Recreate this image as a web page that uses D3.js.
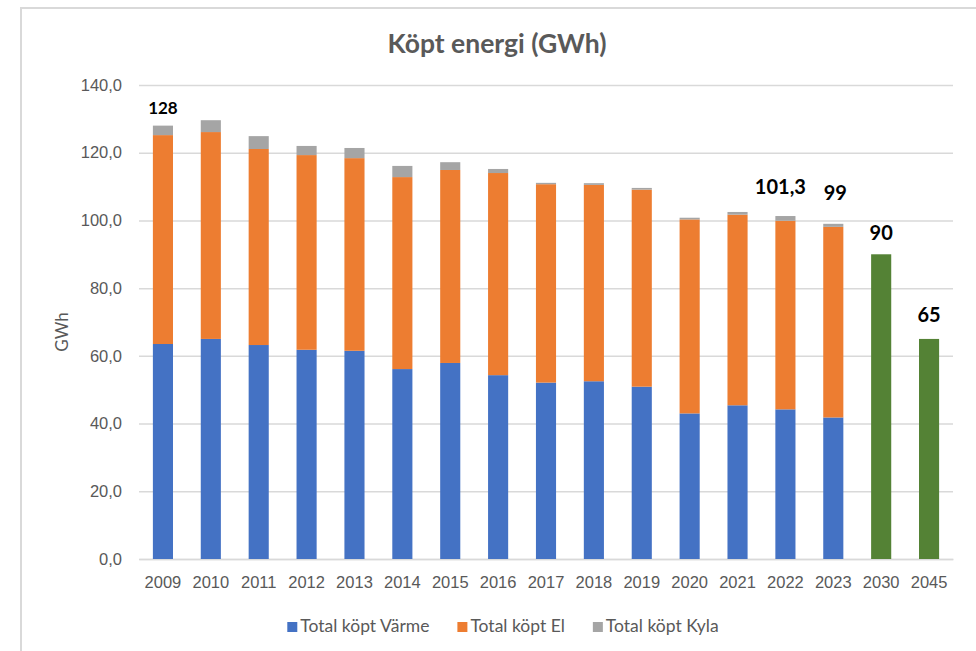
<!DOCTYPE html>
<html>
<head>
<meta charset="utf-8">
<script src="https://cdn.jsdelivr.net/npm/d3@7"></script>
<style>
  html, body { margin: 0; padding: 0; background: #fff; }
  svg { display: block; font-family: Lato, "Open Sans", sans-serif; }
</style>
</head>
<body>
<svg id="chart" width="976" height="651"></svg>
<script>
// ---- data ----
const years = ["2009","2010","2011","2012","2013","2014","2015","2016","2017","2018","2019","2020","2021","2022","2023","2030","2045"];
const varme = [63.5, 65.0, 63.2, 61.8, 61.5, 56.1, 57.9, 54.3, 52.1, 52.5, 50.9, 43.0, 45.4, 44.2, 41.8, 0, 0];
const el    = [61.7, 61.1, 57.9, 57.5, 56.9, 56.7, 57.0, 59.7, 58.6, 58.0, 58.2, 57.3, 56.3, 55.7, 56.3, 0, 0];
const kyla  = [2.8, 3.5, 3.8, 2.7, 3.0, 3.3, 2.3, 1.2, 0.4, 0.5, 0.5, 0.5, 0.8, 1.4, 0.9, 0, 0];
const target = [null, null, null, null, null, null, null, null, null, null, null, null, null, null, null, 90, 65];
const seriesNames = ["Total köpt Värme", "Total köpt El", "Total köpt Kyla"];
const labelYears = ["2009", "2022", "2023", "2030", "2045"];
const labelTexts = ["128", "101,3", "99", "90", "65"];
const yTicks = [0, 20, 40, 60, 80, 100, 120, 140];
const title = "Köpt energi (GWh)";
const yTitle = "GWh";

// ---- styles / layout ----
const colors = ["#4472C4", "#ED7D31", "#A5A5A5"];
const targetColor = "#548235";
const labelLayout = { "2009": {lift: 12, size: 17, dx: 0}, "2022": {lift: 22, size: 20, dx: -5}, "2023": {lift: 24, size: 20, dx: 2}, "2030": {lift: 14, size: 20, dx: 0}, "2045": {lift: 17, size: 20, dx: 0} };

const svg = d3.select("#chart");
const margin = { left: 139, right: 976 - 953, top: 85, bottom: 651 - 559 };
const W = 976, H = 651;

// outer frame
svg.append("rect").attr("x", 21).attr("y", 8).attr("width", 970).attr("height", 660)
  .attr("fill", "none").attr("stroke", "#d9d9d9").attr("stroke-width", 2);

const x = d3.scaleBand().domain(years).range([margin.left, W - margin.right])
  .paddingInner(0.58).paddingOuter(0.29);
const y = d3.scaleLinear().domain([0, 140]).range([H - margin.bottom, margin.top]);

const locale = d3.formatLocale({ decimal: ",", thousands: " ", grouping: [3], currency: ["", " kr"] });
const fmt = locale.format(".1f");

// gridlines + y axis labels
const yAxis = d3.axisLeft(y).tickValues(yTicks).tickFormat(fmt)
  .tickSize(-(W - margin.right - margin.left)).tickPadding(17);
const gy = svg.append("g").attr("transform", `translate(${margin.left},0)`).call(yAxis);
gy.select(".domain").remove();
gy.selectAll(".tick line").attr("stroke", "#d9d9d9").attr("stroke-width", 1.5);
gy.selectAll(".tick text").attr("fill", "#595959").attr("font-size", 16.5);

// x axis
const xAxis = d3.axisBottom(x).tickSize(0).tickPadding(17);
const gx = svg.append("g").attr("transform", `translate(0,${y(0)})`).call(xAxis);
gx.select(".domain").attr("stroke", "#d9d9d9").attr("stroke-width", 1.5);
gx.selectAll(".tick text").attr("fill", "#595959").attr("font-size", 16.5);

// stacked bars
const rows = years.map((yr, i) => ({ year: yr, v: varme[i], e: el[i], k: kyla[i] }));
const stack = d3.stack().keys(["v", "e", "k"]);
const stacked = stack(rows);
svg.append("g").selectAll("g").data(stacked).join("g")
  .attr("fill", (d, i) => colors[i])
  .selectAll("rect").data(d => d.filter(s => s[1] - s[0] > 0)).join("rect")
  .attr("x", d => x(d.data.year))
  .attr("width", x.bandwidth())
  .attr("y", d => y(d[1]))
  .attr("height", d => y(d[0]) - y(d[1]));

// target bars
const targets = years.map((yr, i) => ({ year: yr, t: target[i] })).filter(d => d.t != null);
svg.append("g").selectAll("rect").data(targets).join("rect")
  .attr("fill", targetColor)
  .attr("x", d => x(d.year)).attr("width", x.bandwidth())
  .attr("y", d => y(d.t)).attr("height", d => y(0) - y(d.t));

// data labels
const totals = years.map((yr, i) => target[i] != null ? target[i] : varme[i] + el[i] + kyla[i]);
svg.append("g").selectAll("text").data(labelYears.map((yr, i) => ({ year: yr, text: labelTexts[i] }))).join("text")
  .attr("x", d => x(d.year) + x.bandwidth() / 2 + labelLayout[d.year].dx)
  .attr("y", d => y(totals[years.indexOf(d.year)]) - labelLayout[d.year].lift)
  .attr("text-anchor", "middle")
  .attr("font-weight", "bold")
  .attr("font-size", d => labelLayout[d.year].size)
  .attr("fill", "#000")
  .text(d => d.text);

// title
svg.append("text").attr("x", 497).attr("y", 53).attr("text-anchor", "middle")
  .attr("font-size", 26.5).attr("font-weight", "bold").attr("fill", "#595959").text(title);

// y title
svg.append("text").attr("transform", "translate(68,332) rotate(-90)").attr("text-anchor", "middle")
  .attr("font-size", 17).attr("fill", "#595959").text(yTitle);

// legend
const legend = svg.append("g");
let lx = 0;
seriesNames.forEach((name, i) => {
  const g = legend.append("g").attr("transform", `translate(${lx},0)`);
  g.append("rect").attr("x", 0).attr("y", -10).attr("width", 10).attr("height", 10).attr("fill", colors[i]);
  const t = g.append("text").attr("x", 13).attr("y", 0).attr("font-size", 17.5).attr("fill", "#595959").text(name);
  lx += 13 + t.node().getComputedTextLength() + 28;
});
const legendWidth = lx - 28;
legend.attr("transform", `translate(${503 - legendWidth / 2},632)`);
</script>
</body>
</html>
